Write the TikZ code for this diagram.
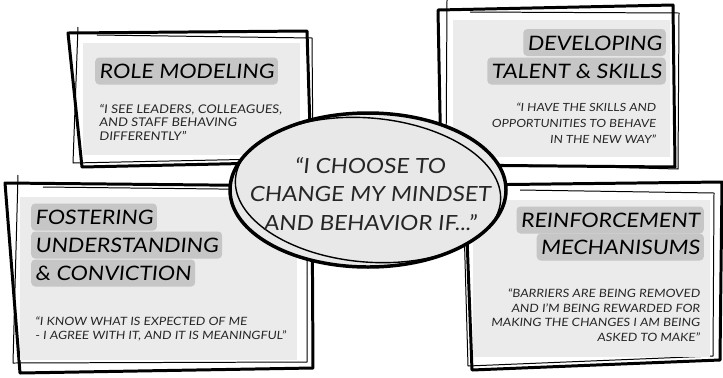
\documentclass[tikz,border=0pt]{standalone}
\usepackage{fontspec}
\setmainfont{Lato}[FakeSlant=0.1, FakeStretch=1.08]
\usetikzlibrary{shapes.geometric, positioning}
\definecolor{panelgray}{RGB}{235,235,235}
\definecolor{markgray}{RGB}{198,198,198}
\definecolor{inkdark}{RGB}{38,38,38}
\definecolor{ovalgray}{RGB}{232,232,232}
\tikzset{
  heavy/.style={line width=3pt, line join=round, fill=white},
  light/.style={line width=1pt, line join=round},
  panel/.style={fill=panelgray, draw=none},
  headline/.style={fill=markgray, rounded corners=4pt,
    inner xsep=4bp, inner ysep=6bp, text height=15bp, text depth=0bp,
    font=\fontsize{20}{26}\selectfont},
  saying/.style={inner sep=0pt, text=inkdark},
  oval/.style={ellipse, draw, fill=ovalgray, line width=3.5pt,
    minimum width=276bp, minimum height=154bp, inner sep=0pt}
}

\begin{document}
\begin{tikzpicture}[x=1bp, y=-1bp]
  \useasboundingbox (0,0) rectangle (723,377);

  % Role modeling
  \draw[heavy] (68,33) -- (307,31) -- (311,162) -- (82,167) -- cycle;
  \draw[light] (78,27) -- (73,163) -- (313,158) -- (312,38) -- (97,35);
  \fill[panel] (83,43) rectangle (300,155);
  \node[headline, anchor=west] (role-t) at (95,71) {ROLE MODELING};
  \node[saying, anchor=north west, align=left, font=\fontsize{12}{13.5}\selectfont]
    (role-q) at (99,104) {“I SEE LEADERS, COLLEAGUES,\\AND STAFF BEHAVING\\DIFFERENTLY”};

  % Developing talent
  \draw[heavy] (438,10) -- (673,5) -- (675,167) -- (441,165) -- cycle;
  \draw[light] (447,0) -- (446,163) -- (678,169) -- (679,13) -- (470,12);
  \fill[panel] (453,20) rectangle (670,157);
  \node[headline, anchor=east] (talent-t1) at (666,42.5) {DEVELOPING};
  \node[headline, anchor=east] (talent-t2) at (666,71) {TALENT \& SKILLS};
  \node[saying, anchor=north east, align=right, font=\fontsize{11.3}{16}\selectfont]
    (talent-q) at (656,103) {“I HAVE THE SKILLS AND\\OPPORTUNITIES TO BEHAVE\\IN THE NEW WAY”};

  % Fostering understanding
  \draw[heavy] (5,183) -- (312,186) -- (313,368) -- (20,373) -- cycle;
  \draw[light] (18,175) -- (13,363) -- (307,362) -- (307,190) -- (43,187);
  \fill[panel] (20,197) rectangle (297,360);
  \node[headline, anchor=west] (foster-t1) at (31,217) {FOSTERING};
  \node[headline, anchor=west] (foster-t2) at (31,245) {UNDERSTANDING};
  \node[headline, anchor=west] (foster-t3) at (31,273) {\& CONVICTION};
  \node[saying, anchor=north west, align=left, font=\fontsize{11.5}{14}\selectfont]
    (foster-q) at (35,317) {“I KNOW WHAT IS EXPECTED OF ME\\- I AGREE WITH IT, AND IT IS MEANINGFUL”};

  % Reinforcement
  \draw[heavy] (465,185) -- (722,182) -- (720,360) -- (472,370) -- cycle;
  \draw[light] (463,190) -- (468,366) -- (713,356) -- (714,193) -- (520,190);
  \fill[panel] (473,200) rectangle (710,357);
  \node[headline, anchor=east] (reinf-t1) at (704,220) {REINFORCEMENT};
  \node[headline, anchor=east] (reinf-t2) at (704,247) {MECHANISUMS};
  \node[saying, anchor=north east, align=right, font=\fontsize{11.5}{14.5}\selectfont]
    (reinf-q) at (700,289) {“BARRIERS ARE BEING REMOVED\\AND I’M BEING REWARDED FOR\\MAKING THE CHANGES I AM BEING\\ASKED TO MAKE”};

  % Centre oval
  \node[oval] (choice) at (368,190) {};
  \draw[line width=1.4pt, rotate around={-5:(368,190)}] (368,190) ellipse (133bp and 72bp);
  \node[align=center, text=inkdark, font=\fontsize{21}{29}\selectfont]
    (choice-txt) at (370,194) {“I CHOOSE TO\\CHANGE MY MINDSET\\AND BEHAVIOR IF...”};
\end{tikzpicture}
\end{document}
